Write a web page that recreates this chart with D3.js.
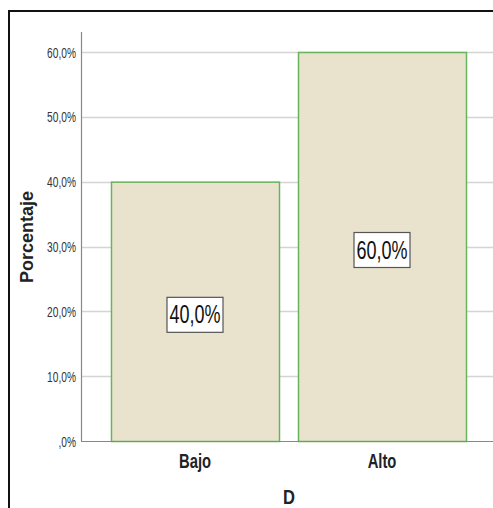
<!DOCTYPE html>
<html><head><meta charset="utf-8">
<script src="https://cdn.jsdelivr.net/npm/d3@7"></script>
<style>body{margin:0;background:#fff}svg{display:block}</style>
</head><body>
<script>
const categories = ["Bajo", "Alto"];
const values = [40, 60];
const tickValues = [0, 10, 20, 30, 40, 50, 60];
const tickLabels = [",0%", "10,0%", "20,0%", "30,0%", "40,0%", "50,0%", "60,0%"];
const valueLabels = ["40,0%", "60,0%"];
const xTitle = "D", yTitle = "Porcentaje";

(function () {
const W = 493, H = 508;
const svg = d3.select("body").append("svg").attr("width", W).attr("height", H);
const font = "Arial,'Liberation Sans',sans-serif";
// outer frame
svg.append("rect").attr("x", 9).attr("y", 11).attr("width", 500).attr("height", 520)
  .attr("fill", "none").attr("stroke", "#111").attr("stroke-width", 2);

const pLeft = 81, pTop = 32, pBottom = 441, pRight = 496;
const y = d3.scaleLinear().domain([0, 60]).range([pBottom, 52]);
const x = d3.scaleBand().domain(categories).range([pLeft, pRight]).paddingInner(0.1016).paddingOuter(0.1604);

// gridlines
svg.append("g").selectAll("line").data(tickValues.slice(1)).join("line")
  .attr("x1", pLeft).attr("x2", W).attr("y1", d => Math.round(y(d)) + 0.5).attr("y2", d => Math.round(y(d)) + 0.5)
  .attr("stroke", "#d4d4d4").attr("stroke-width", 1.5);

// bars
svg.append("g").selectAll("rect").data(values).join("rect")
  .attr("x", (d, i) => x(categories[i]) + 0.5).attr("y", d => y(d) + 0.5)
  .attr("width", x.bandwidth()).attr("height", d => y(0) - y(d))
  .attr("fill", "#e9e3ce").attr("stroke", "#6ab35e").attr("stroke-width", 1.5);

// axes lines
svg.append("line").attr("x1", pLeft + 0.5).attr("x2", pLeft + 0.5).attr("y1", pTop).attr("y2", pBottom + 0.5)
  .attr("stroke", "#888").attr("stroke-width", 1.2);
svg.append("line").attr("x1", pLeft).attr("x2", W).attr("y1", pBottom + 0.5).attr("y2", pBottom + 0.5)
  .attr("stroke", "#888").attr("stroke-width", 1.2);

// y ticks (vertically stretched text, as in the reference)
const yAxis = d3.axisLeft(y).tickValues(tickValues).tickSize(0).tickPadding(5)
  .tickFormat((d, i) => tickLabels[i]);
const ya = svg.append("g").attr("transform", `translate(${pLeft},0)`).call(yAxis);
ya.select(".domain").remove();
ya.selectAll("text").attr("font-family", font).attr("font-size", 10.2).attr("fill", "#333")
  .attr("dy", null).attr("y", 0).attr("transform", "translate(0,5) scale(1,1.37)");

// x ticks
const xAxis = d3.axisBottom(x).tickSize(0).tickPadding(0);
const xa = svg.append("g").attr("transform", `translate(0,${pBottom})`).call(xAxis);
xa.select(".domain").remove();
xa.selectAll("text").attr("font-family", font).attr("font-size", 14.8)
  .attr("font-weight", "bold").attr("fill", "#222")
  .attr("dy", null).attr("y", 0).attr("transform", "translate(0,27) scale(1,1.42)");

// titles
svg.append("g").attr("transform", "translate(289,504) scale(1,1.18)")
  .append("text").attr("text-anchor", "middle")
  .attr("font-family", font).attr("font-size", 16.6).attr("font-weight", "bold")
  .attr("fill", "#222").text(xTitle);
svg.append("text").attr("transform", "translate(33,237) rotate(-90)").attr("text-anchor", "middle")
  .attr("font-family", font).attr("font-size", 18).attr("font-weight", "bold")
  .attr("fill", "#222").text(yTitle);

// value labels
const lab = svg.append("g").selectAll("g").data(values).join("g")
  .attr("transform", (d, i) => `translate(${x(categories[i]) + x.bandwidth() / 2},${(y(d) + y(0)) / 2 + 3})`);
lab.append("rect").attr("x", -28).attr("y", -17).attr("width", 56).attr("height", 35)
  .attr("fill", "#fff").attr("stroke", "#555").attr("stroke-width", 1.2);
lab.append("text").attr("text-anchor", "middle").attr("transform", "translate(0,9) scale(1,1.4)")
  .attr("font-family", font).attr("font-size", 18).attr("fill", "#111")
  .text((d, i) => valueLabels[i]);
})();
</script>
</body></html>
